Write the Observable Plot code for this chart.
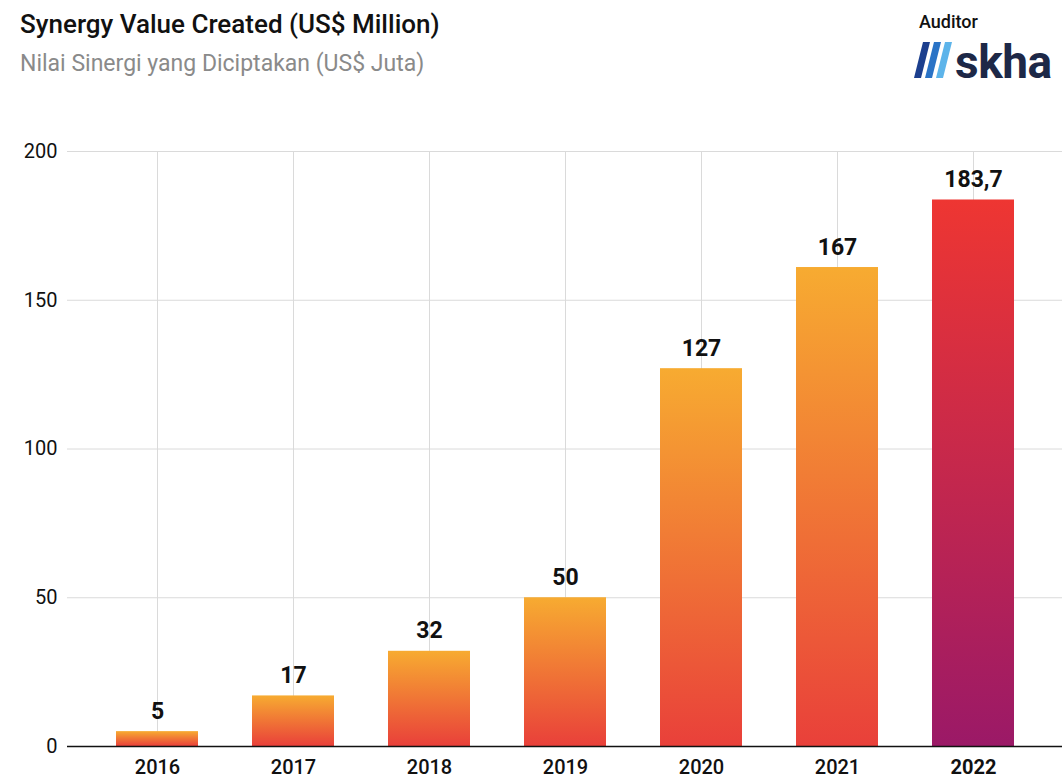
<!DOCTYPE html>
<html>
<head>
<meta charset="utf-8">
<script src="https://cdn.jsdelivr.net/npm/d3@7"></script>
<script src="https://cdn.jsdelivr.net/npm/@observablehq/plot@0.6"></script>
<style>
  html, body { margin: 0; padding: 0; background: #fff; }
  #wrap { position: relative; width: 1062px; height: 779px; overflow: hidden; font-family: Roboto, "Noto Sans", sans-serif; }
  #header { position: relative; height: 110px; }
  .abs { position: absolute; white-space: nowrap; line-height: 1; }
  #title { left: 20px; top: 11px; font-size: 26px; font-weight: 500; color: #111; }
  #subtitle { left: 20px; top: 52px; font-size: 23px; font-weight: 400; color: #8a8a8a; }
  #auditor { left: 919px; top: 13px; font-size: 18px; font-weight: 500; color: #111; }
  #logo { left: 955px; top: 39px; font-size: 46px; font-weight: 700; color: #1d2847; letter-spacing: -0.5px; }
  #slashes { position: absolute; left: 914px; top: 41px; }
</style>
</head>
<body>
<div id="wrap">
  <div id="header">
    <div class="abs" id="title">Synergy Value Created (US$ Million)</div>
    <div class="abs" id="subtitle">Nilai Sinergi yang Diciptakan (US$ Juta)</div>
    <div class="abs" id="auditor">Auditor</div>
    <svg id="slashes" width="44" height="38" viewBox="0 0 44 38">
      <polygon points="0,37 7,37 16,1 9,1" fill="#1c3f8e"/>
      <polygon points="11,37 18,37 27,1 20,1" fill="#2a73c6"/>
      <polygon points="22,37 29,37 38,1 31,1" fill="#5db4ea"/>
    </svg>
    <div class="abs" id="logo">skha</div>
  </div>
  <div id="chart"></div>
</div>
<script>
const years = ["2016", "2017", "2018", "2019", "2020", "2021", "2022"];
const values = [5, 17, 32, 50, 127, 161, 183.7];
const valueLabels = ["5", "17", "32", "50", "127", "167", "183,7"];
const yTicks = [0, 50, 100, 150, 200];
const highlightYear = "2022";

const data = years.map((year, i) => ({ year, value: values[i], label: valueLabels[i] }));
const regular = data.filter(d => d.year !== highlightYear);
const highlight = data.filter(d => d.year === highlightYear);

const chart = Plot.plot({
  width: 1062,
  height: 669,
  marginTop: 41,
  marginBottom: 33,
  marginLeft: 67,
  marginRight: 0,
  style: { fontFamily: "Roboto, 'Noto Sans', sans-serif", background: "white", overflow: "visible" },
  x: { domain: years, paddingInner: 0.4, paddingOuter: 0.345, label: null },
  y: { domain: [0, 200], label: null },
  marks: [
    Plot.gridY(yTicks, { stroke: "#dadada", strokeOpacity: 1 }),
    Plot.gridX(years, { stroke: "#dadada", strokeOpacity: 1 }),
    Plot.barY(regular, { x: "year", y: "value", fill: "url(#gradOrange)" }),
    Plot.barY(highlight, { x: "year", y: "value", fill: "url(#gradPurple)" }),
    Plot.ruleY([0], { stroke: "#111", strokeWidth: 1.5 }),
    Plot.text(data, { x: "year", y: "value", text: "label", dy: -13, lineAnchor: "bottom", fontSize: 23, fontWeight: "bold", fill: "#111" }),
    Plot.axisY(yTicks, { tickSize: 0, tickPadding: 10, fontSize: 20, fill: "#111", label: null }),
    Plot.axisX(years.filter(y => y !== highlightYear), { tickSize: 0, tickPadding: 13, fontSize: 20, fontWeight: 500, fill: "#111", label: null }),
    Plot.axisX([highlightYear], { tickSize: 0, tickPadding: 13, fontSize: 20, fontWeight: "bold", fill: "#111", label: null })
  ]
});

const defs = d3.select(chart).insert("defs", ":first-child");
const g1 = defs.append("linearGradient").attr("id", "gradOrange").attr("x1", 0).attr("y1", 0).attr("x2", 0).attr("y2", 1);
g1.append("stop").attr("offset", "0%").attr("stop-color", "#f7ab31");
g1.append("stop").attr("offset", "100%").attr("stop-color", "#e9403a");
const g2 = defs.append("linearGradient").attr("id", "gradPurple").attr("x1", 0).attr("y1", 0).attr("x2", 0).attr("y2", 1);
g2.append("stop").attr("offset", "0%").attr("stop-color", "#ee3632");
g2.append("stop").attr("offset", "100%").attr("stop-color", "#9b1967");

document.getElementById("chart").appendChild(chart);
</script>
</body>
</html>
